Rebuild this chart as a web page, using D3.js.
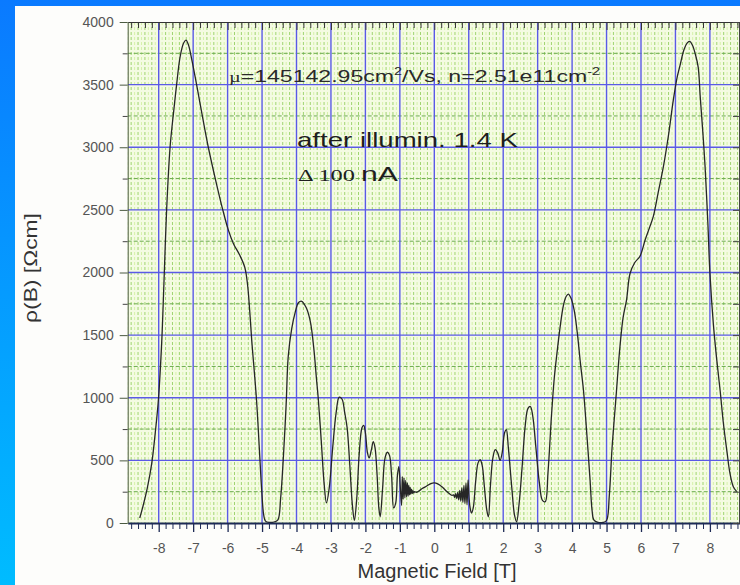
<!DOCTYPE html>
<html>
<head>
<meta charset="utf-8">
<script src="https://cdn.jsdelivr.net/npm/d3@7"></script>
<style>
  html, body { margin: 0; padding: 0; }
  body { width: 740px; height: 585px; overflow: hidden; }
  svg { display: block; }
</style>
</head>
<body>
<svg id="chart" width="740" height="585"></svg>
<script>
// Magnetoresistance trace: field B [T] and resistivity rho(B) [Ohm cm]
const fieldT = [
  -8.55, -8.46, -8.33, -8.2, -8.1, -8.01, -7.91, -7.85, -7.77, -7.67,
  -7.56, -7.48, -7.38, -7.28, -7.21, -7.14, -7.04, -6.9, -6.72, -6.56,
  -6.35, -6.14, -5.98, -5.83, -5.65, -5.5, -5.42, -5.36, -5.3, -5.16,
  -5.08, -5.01, -4.95, -4.9, -4.8, -4.65, -4.54, -4.46, -4.38, -4.3,
  -4.24, -4.14, -4.04, -3.94, -3.85, -3.72, -3.6, -3.5, -3.42, -3.37,
  -3.28, -3.2, -3.13, -3.05, -2.95, -2.85, -2.76, -2.68, -2.6, -2.53,
  -2.45, -2.38, -2.32, -2.25, -2.18, -2.1, -2.05, -2.0, -1.94, -1.89,
  -1.83, -1.77, -1.72, -1.66, -1.61, -1.57, -1.5, -1.43, -1.36, -1.3,
  -1.24, -1.18, -1.12, -1.07, -1.03, -0.99, -0.95,
  -0.93, -0.905, -0.88, -0.855, -0.83, -0.805, -0.78, -0.76, -0.74, -0.72,
  -0.70, -0.68, -0.66, -0.64, -0.62, -0.60, -0.57, -0.52, -0.45, -0.35,
  -0.22, -0.1, 0, 0.1, 0.22, 0.33, 0.45, 0.52,
  0.56, 0.59, 0.62, 0.65, 0.68, 0.71, 0.74, 0.77, 0.80, 0.83,
  0.86, 0.89, 0.92, 0.95, 0.98, 1.01, 1.04, 1.08, 1.13, 1.2,
  1.27, 1.33, 1.39, 1.45, 1.52, 1.57, 1.63, 1.7, 1.77, 1.84,
  1.91, 1.97, 2.04, 2.09, 2.15, 2.25, 2.33, 2.39, 2.46, 2.55,
  2.64, 2.72, 2.79, 2.86, 2.95, 3.05, 3.14, 3.22, 3.3, 3.4,
  3.48, 3.55, 3.65, 3.75, 3.83, 3.89, 3.96, 4.06, 4.15, 4.24,
  4.33, 4.43, 4.52, 4.58, 4.63, 4.75, 4.9, 5.0, 5.08, 5.16,
  5.23, 5.29, 5.38, 5.48, 5.58, 5.68, 5.82, 5.97, 6.12, 6.25,
  6.36, 6.5, 6.65, 6.8, 6.94, 7.05, 7.13, 7.25, 7.35, 7.42,
  7.5, 7.58, 7.66, 7.72, 7.8, 7.86, 7.94, 8.0, 8.1, 8.2,
  8.3, 8.39, 8.5, 8.58, 8.68, 8.78
];
const rhoOhmCm = [
  40, 130, 280, 480, 720, 980, 1460, 1900, 2500, 3000,
  3300, 3500, 3720, 3830, 3855, 3820, 3700, 3500, 3230, 3000,
  2740, 2500, 2340, 2230, 2140, 2040, 1900, 1700, 1460, 980,
  600, 260, 60, 15, 5, 8, 25, 200, 530, 950,
  1330, 1550, 1680, 1760, 1770, 1720, 1610, 1400, 1150, 1000,
  650, 320, 160, 280, 600, 880, 1005, 990, 880, 760,
  450, 150, 20, 200, 550, 760, 780, 720, 560, 520,
  580, 650, 600, 380, 120, 50, 280, 520, 565, 540,
  380, 120, 160, 380, 450, 300, 140,
  370, 190, 360, 200, 340, 210, 320, 215, 300, 225,
  285, 230, 270, 235, 258, 240, 250, 245, 255, 275,
  295, 315, 320, 312, 290, 260, 232, 220,
  225, 205, 235, 195, 245, 185, 260, 175, 280, 165,
  300, 155, 320, 145, 345, 200, 120, 80, 120, 330,
  480, 505, 460, 300, 110, 50, 300, 520, 585, 560,
  500, 560, 720, 745, 600, 280, 60, 10, 150, 450,
  780, 915, 930, 850, 600, 320, 180, 170, 400, 850,
  1150, 1330, 1560, 1740, 1810, 1828, 1800, 1700, 1520, 1280,
  1060, 700, 350, 100, 25, 5, 5, 20, 220, 600,
  850, 1060, 1380, 1640, 1780, 1990, 2080, 2130, 2260, 2360,
  2450, 2640, 2845, 3100, 3380, 3560, 3650, 3780, 3835, 3845,
  3810, 3740, 3640, 3400, 3100, 2845, 2400, 2000, 1590, 1300,
  1050, 800, 560, 400, 290, 250
];
const xTickLabels = [-8, -7, -6, -5, -4, -3, -2, -1, 0, 1, 2, 3, 4, 5, 6, 7, 8];
const yTickLabels = [0, 500, 1000, 1500, 2000, 2500, 3000, 3500, 4000];

const svg = d3.select("#chart");
const W = 740, H = 585;
const plotL = 127.7, plotR = 740.9, plotT = 22, plotB = 523;

const x = d3.scaleLinear().domain([-8.9, 8.9]).range([plotL, plotR]);
const y = d3.scaleLinear().domain([0, 4000]).range([plotB, plotT]);

const defs = svg.append("defs");
const grad = defs.append("linearGradient").attr("id", "frameGrad")
  .attr("x1", 0).attr("y1", 0).attr("x2", 0).attr("y2", 1);
grad.append("stop").attr("offset", "0%").attr("stop-color", "#0a7aff");
grad.append("stop").attr("offset", "100%").attr("stop-color", "#00bcff");
defs.append("clipPath").attr("id", "plotClip").append("rect")
  .attr("x", plotL).attr("y", plotT - 1).attr("width", plotR - plotL).attr("height", plotB - plotT + 2);

// blue frame and white sheet
svg.append("rect").attr("width", W).attr("height", H).attr("fill", "url(#frameGrad)");
svg.append("rect").attr("x", 15).attr("y", 6).attr("width", W - 15).attr("height", H - 6).attr("fill", "#fdfdfb");

// plot background
svg.append("rect").attr("x", plotL).attr("y", plotT).attr("width", plotR - plotL).attr("height", plotB - plotT)
  .attr("fill", "#f4fbe2");

const grid = svg.append("g").attr("clip-path", "url(#plotClip)");
const fine = d3.range(-89, 90).map(i => i / 10);
// fine vertical lines every 0.1 T
grid.selectAll("line.vfine").data(fine.filter(v => Math.round(v * 10) % 2 !== 0)).join("line")
  .attr("x1", d => x(d)).attr("x2", d => x(d)).attr("y1", plotT).attr("y2", plotB)
  .attr("stroke", "#d6f2aa").attr("stroke-width", 1).attr("stroke-dasharray", "3,2");
grid.selectAll("line.vminor").data(fine.filter(v => Math.round(v * 10) % 2 === 0 && Math.round(v * 10) % 10 !== 0)).join("line")
  .attr("x1", d => x(d)).attr("x2", d => x(d)).attr("y1", plotT).attr("y2", plotB)
  .attr("stroke", "#9fd470").attr("stroke-width", 1).attr("stroke-dasharray", "3,2");
// minor horizontal lines at 250
grid.selectAll("line.hminor").data(d3.range(250, 4000, 500)).join("line")
  .attr("x1", plotL).attr("x2", plotR).attr("y1", d => y(d)).attr("y2", d => y(d))
  .attr("stroke", "#6aaa4c").attr("stroke-width", 1).attr("stroke-dasharray", "4,2");
// major grid
grid.selectAll("line.vmajor").data(xTickLabels).join("line")
  .attr("x1", d => x(d)).attr("x2", d => x(d)).attr("y1", plotT).attr("y2", plotB)
  .attr("stroke", "#5a5ae6").attr("stroke-width", 1.4);
grid.selectAll("line.hmajor").data(yTickLabels.slice(1, -1)).join("line")
  .attr("x1", plotL).attr("x2", plotR).attr("y1", d => y(d)).attr("y2", d => y(d))
  .attr("stroke", "#5a5ae6").attr("stroke-width", 1.4);

// trace
const pts = fieldT.map((b, i) => [b, rhoOhmCm[i]]);
const line = d3.line().x(d => x(d[0])).y(d => y(d[1])).curve(d3.curveCatmullRom.alpha(0.5));
svg.append("path").datum(pts).attr("clip-path", "url(#plotClip)")
  .attr("d", line).attr("fill", "none").attr("stroke", "#262626").attr("stroke-width", 1.3);

// axes
const minorX = d3.range(-44, 45).map(i => i / 5).filter(v => Math.abs(v - Math.round(v)) > 1e-6);
const minorY = d3.range(250, 4000, 500);
const sans = "'Liberation Sans', Arial, sans-serif";
const serif = "'Liberation Serif', 'Times New Roman', serif";
const plainInt = d => String(d);

function styleAxis(g, color) {
  g.select(".domain").attr("stroke", color);
  g.selectAll(".tick line").attr("stroke", color);
}

// bottom
const gxMinor = svg.append("g").attr("transform", `translate(0,${plotB})`)
  .call(d3.axisBottom(x).tickValues(minorX).tickSize(6).tickFormat(""));
styleAxis(gxMinor, "#1d2a55");
gxMinor.select(".domain").remove();
const gx = svg.append("g").attr("transform", `translate(0,${plotB})`)
  .call(d3.axisBottom(x).tickValues(xTickLabels).tickSize(9).tickSizeOuter(0).tickPadding(11).tickFormat(plainInt));
styleAxis(gx, "#1d2a55");
gx.select(".domain").attr("stroke-width", 2);
gx.selectAll(".tick line").attr("stroke-width", 1.3);
gx.selectAll("text").attr("font-family", sans).attr("font-size", 14).attr("fill", "#555");

// top (ticks inside)
const gtMinor = svg.append("g").attr("transform", `translate(0,${plotT})`)
  .call(d3.axisTop(x).tickValues(minorX).tickSize(-6).tickFormat(""));
styleAxis(gtMinor, "#333");
gtMinor.select(".domain").remove();
const gt = svg.append("g").attr("transform", `translate(0,${plotT})`)
  .call(d3.axisTop(x).tickValues(xTickLabels).tickSize(-8).tickSizeOuter(0).tickFormat(""));
styleAxis(gt, "#333");

// left
const gyMinor = svg.append("g").attr("transform", `translate(${plotL},0)`)
  .call(d3.axisLeft(y).tickValues(minorY).tickSize(5).tickFormat(""));
styleAxis(gyMinor, "#444");
gyMinor.select(".domain").remove();
const gy = svg.append("g").attr("transform", `translate(${plotL},0)`)
  .call(d3.axisLeft(y).tickValues(yTickLabels).tickSize(8).tickSizeOuter(0).tickPadding(6).tickFormat(plainInt));
styleAxis(gy, "#4a5a40");
gy.selectAll("text").attr("font-family", sans).attr("font-size", 14).attr("fill", "#555");

// right (ticks inside)
const gr = svg.append("g").attr("transform", `translate(739,0)`)
  .call(d3.axisRight(y).tickValues(d3.range(0, 4001, 250)).tickSize(-6).tickSizeOuter(0).tickFormat(""));
styleAxis(gr, "#444");

// horizontally stretched annotation text
function wideText(x0, baseline, width, build) {
  const g = svg.append("g").attr("transform", `translate(${x0},${baseline})`);
  const t = g.append("text").attr("x", 0).attr("y", 0);
  build(t);
  const w = t.node().getBBox().width;
  g.attr("transform", `translate(${x0},${baseline}) scale(${width / w},1)`);
  return g;
}

wideText(229, 82, 372, t => {
  t.attr("font-family", sans).attr("font-size", 16).attr("fill", "#2a2a2a");
  t.append("tspan").attr("font-family", serif).attr("font-size", 14).text("\u00b5");
  t.append("tspan").text("=145142.95cm");
  t.append("tspan").attr("font-size", 10).attr("dy", -7).text("2");
  t.append("tspan").attr("dy", 7).text("/Vs, n=2.51e11cm");
  t.append("tspan").attr("font-size", 10).attr("dy", -7).text("-2");
});

wideText(297, 147, 221, t => {
  t.attr("font-family", sans).attr("font-size", 21).attr("fill", "#1e1e1e").text("after illumin. 1.4 K");
});

wideText(298, 181, 100, t => {
  t.attr("fill", "#1e1e1e");
  t.append("tspan").attr("font-family", serif).attr("font-size", 17).text("\u0394 100 ");
  t.append("tspan").attr("font-family", sans).attr("font-size", 21).text("nA");
});

// axis titles
svg.append("text").attr("x", 437).attr("y", 578).attr("text-anchor", "middle")
  .attr("font-family", sans).attr("font-size", 20).attr("fill", "#333")
  .text("Magnetic Field [T]");

const yl = svg.append("g").attr("transform", "translate(37,268) rotate(-90)");
const ylt = yl.append("text").attr("text-anchor", "middle")
  .attr("font-family", sans).attr("font-size", 18).attr("fill", "#333")
  .text("\u03c1(B) [\u03a9cm]");
const ylw = ylt.node().getBBox().width;
yl.attr("transform", `translate(37,268) rotate(-90) scale(${110 / ylw},1)`);
</script>
</body>
</html>
